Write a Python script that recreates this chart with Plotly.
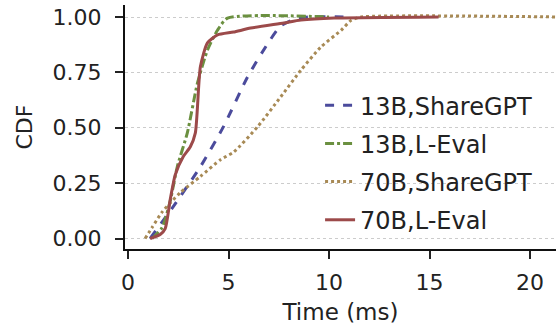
import plotly.graph_objects as go

# 13B, ShareGPT
t_13b_sg = [1.1, 2.25, 3.6, 4.75, 5.95, 6.95, 7.6, 8.3, 8.95, 11.0]
c_13b_sg = [0.0, 0.144, 0.324, 0.505, 0.73, 0.88, 0.96, 0.99, 1.0, 1.0]

# 13B, L-Eval
t_13b_le = [1.2, 1.7, 2.1, 2.45, 2.95, 3.45, 3.95, 4.45, 4.95, 10.0]
c_13b_le = [0.0, 0.05, 0.17, 0.324, 0.477, 0.70, 0.85, 0.94, 0.995, 1.0]

# 70B, ShareGPT
t_70b_sg = [0.85, 1.2, 1.7, 2.6, 3.6, 4.6, 5.25, 6.45, 7.6, 8.6, 9.6, 10.6, 11.1, 11.6, 21.5]
c_70b_sg = [0.0, 0.05, 0.12, 0.207, 0.28, 0.356, 0.39, 0.505, 0.64, 0.76, 0.865, 0.94, 0.985, 1.0, 1.0]

# 70B, L-Eval
t_70b_le = [1.1, 1.6, 1.85, 2.1, 2.35, 2.75, 3.1, 3.35, 3.6, 3.95, 4.45, 5.25, 6.1, 7.75, 8.6, 10.25, 15.45]
c_70b_le = [0.0, 0.018, 0.045, 0.176, 0.288, 0.37, 0.414, 0.477, 0.775, 0.883, 0.919, 0.932, 0.95, 0.973, 0.986, 0.995, 1.0]

series_names = ["13B,ShareGPT", "13B,L-Eval", "70B,ShareGPT", "70B,L-Eval"]
x_ticks = [0, 5, 10, 15, 20]
y_ticks = [0.0, 0.25, 0.5, 0.75, 1.0]
y_tick_text = ["0.00", "0.25", "0.50", "0.75", "1.00"]

colors = ["#4b4b9c", "#6b9040", "#a88a55", "#9c4a4a"]
dashes = ["dash", "dashdot", "dot", "solid"]
xs = [t_13b_sg, t_13b_le, t_70b_sg, t_70b_le]
ys = [c_13b_sg, c_13b_le, c_70b_sg, c_70b_le]

fig = go.Figure()
for i in range(4):
    fig.add_trace(go.Scatter(
        x=xs[i], y=ys[i], mode="lines", name=series_names[i],
        legendgroup=f"g{i}",
        line=dict(color=colors[i], dash=dashes[i], width=3, shape="spline", smoothing=0.6),
    ))

font = "DejaVu Sans, Verdana, sans-serif"
fig.update_layout(
    width=556, height=325,
    margin=dict(l=125, r=0, t=5, b=76),
    paper_bgcolor="white", plot_bgcolor="white",
    font=dict(family=font, color="#222", size=22),
    showlegend=True,
    legend=dict(x=0.4526, y=0.68, xanchor="left", yanchor="top",
                bgcolor="rgba(0,0,0,0)", font=dict(size=24, family=font, color="#222"),
                tracegroupgap=4, itemwidth=30),
    xaxis=dict(range=[-0.15, 21.29], tickvals=x_ticks, ticks="outside", ticklen=8,
               tickwidth=2, tickcolor="#222", showline=True, linecolor="#111", linewidth=2,
               showgrid=False, zeroline=False, tickfont=dict(size=22), automargin=False,
               ticklabelstandoff=5, ticklabeloverflow="allow",
               title=dict(text="Time (ms)", font=dict(size=23), standoff=12)),
    yaxis=dict(range=[-0.0474, 1.0542], tickvals=y_ticks, ticktext=y_tick_text,
               ticks="outside", ticklen=8, tickwidth=2, tickcolor="#222",
               showline=True, linecolor="#111", linewidth=2,
               showgrid=True, gridcolor="#cccccc", griddash="dot", gridwidth=1,
               zeroline=False, tickfont=dict(size=22), automargin=False,
               ticklabelstandoff=9, ticklabeloverflow="allow",
               title=dict(text="CDF", font=dict(size=22), standoff=14)),
)
fig.write_html("out.html", post_script="document.body.style.margin='0';",
               config={"displayModeBar": False})
